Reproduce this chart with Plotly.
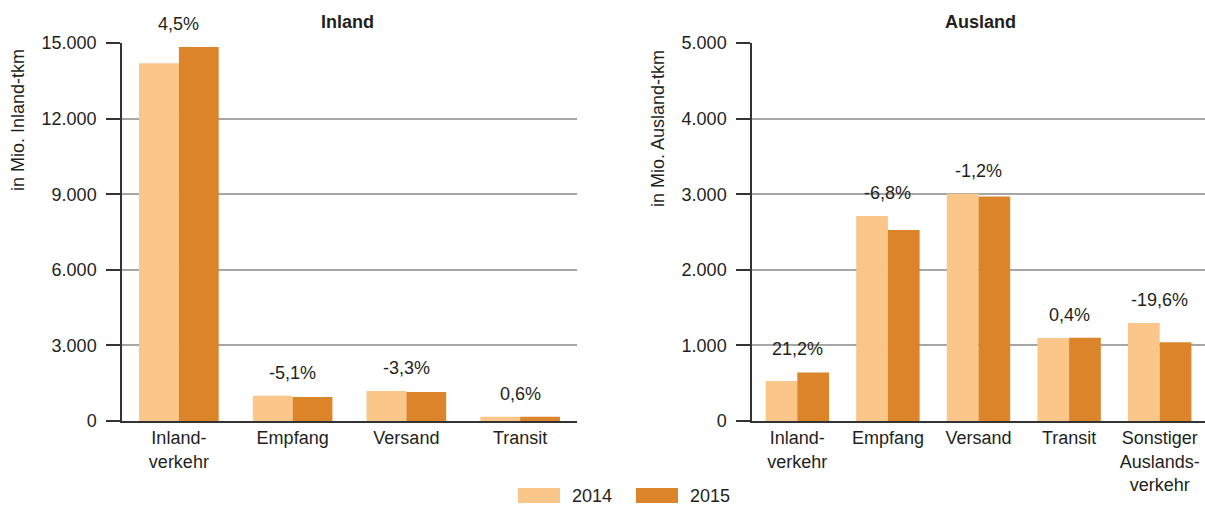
import plotly.graph_objects as go

# ---- data ----
inland_cats = ["Inland-<br>verkehr", "Empfang", "Versand", "Transit"]
inland_2014 = [14200, 1000, 1190, 170]
inland_2015 = [14840, 950, 1150, 171]
inland_change = ["4,5%", "-5,1%", "-3,3%", "0,6%"]

ausland_cats = ["Inland-<br>verkehr", "Empfang", "Versand", "Transit", "Sonstiger<br>Auslands-<br>verkehr"]
ausland_2014 = [530, 2712, 3007, 1098, 1296]
ausland_2015 = [642, 2527, 2971, 1102, 1042]
ausland_change = ["21,2%", "-6,8%", "-1,2%", "0,4%", "-19,6%"]

years = ["2014", "2015"]
colors = ["#FAC68A", "#DB8429"]

W, H = 1205, 505
FONT = "Liberation Sans, Arial, sans-serif"
TXT = "#231F20"
FS = 18

def px_x(p):
    return p / W

def px_y(p):
    return 1 - p / H

fig = go.Figure()

for i, (vals, name) in enumerate(zip([inland_2014, inland_2015], years)):
    fig.add_trace(go.Bar(x=inland_cats, y=vals, name=name, marker_color=colors[i],
                         marker_line_width=0, xaxis="x", yaxis="y", showlegend=False))
for i, (vals, name) in enumerate(zip([ausland_2014, ausland_2015], years)):
    fig.add_trace(go.Bar(x=ausland_cats, y=vals, name=name, marker_color=colors[i],
                         marker_line_width=0, xaxis="x2", yaxis="y2", showlegend=False))

annotations = []
for cat, a, b, t in zip(inland_cats, inland_2014, inland_2015, inland_change):
    annotations.append(dict(x=cat, y=max(a, b), xref="x", yref="y", text=t, showarrow=False,
                            yanchor="bottom", yshift=11, font=dict(size=FS, color=TXT)))
for cat, a, b, t in zip(ausland_cats, ausland_2014, ausland_2015, ausland_change):
    annotations.append(dict(x=cat, y=max(a, b), xref="x2", yref="y2", text=t, showarrow=False,
                            yanchor="bottom", yshift=11, font=dict(size=FS, color=TXT)))

annotations += [
    dict(x=px_x(348), y=px_y(22), xref="paper", yref="paper", text="<b>Inland</b>",
         xanchor="center", yanchor="middle", showarrow=False, font=dict(size=FS, color=TXT)),
    dict(x=px_x(980), y=px_y(22), xref="paper", yref="paper", text="<b>Ausland</b>",
         xanchor="center", yanchor="middle", showarrow=False, font=dict(size=FS, color=TXT)),
    dict(x=px_x(18), y=px_y(120), xref="paper", yref="paper", text="in Mio. Inland-tkm",
         xanchor="center", yanchor="middle", textangle=-90, showarrow=False,
         font=dict(size=FS, color=TXT)),
    dict(x=px_x(658), y=px_y(128), xref="paper", yref="paper", text="in Mio. Ausland-tkm",
         xanchor="center", yanchor="middle", textangle=-90, showarrow=False,
         font=dict(size=FS, color=TXT)),
]

# custom legend (wide swatches like the reference)
shapes = []
legend_x0 = [518, 636]
for x0, name, col in zip(legend_x0, years, colors):
    shapes.append(dict(type="rect", xref="paper", yref="paper",
                       x0=px_x(x0), x1=px_x(x0 + 42), y0=px_y(503), y1=px_y(488),
                       fillcolor=col, line_width=0))
    annotations.append(dict(x=px_x(x0 + 52), y=px_y(495.5), xref="paper", yref="paper",
                            text=name, xanchor="left", yanchor="middle", showarrow=False,
                            font=dict(size=FS, color=TXT)))

y_dom = [px_y(421), px_y(43)]
axis_common = dict(showgrid=False, showline=True, linecolor="#333333", linewidth=1.5,
                   ticks="", tickfont=dict(size=FS, color=TXT), fixedrange=True,
                   automargin=False)
yaxis_common = dict(showgrid=True, gridcolor="#A6A6A6", gridwidth=1.5, showline=True,
                    linecolor="#333333", linewidth=1.5, ticks="outside", ticklen=14,
                    tickcolor="#333333", tickwidth=1.5, tickformat=",d",
                    tickfont=dict(size=FS, color=TXT), zeroline=False, ticklabelstandoff=6,
                    automargin=False, fixedrange=True)

fig.update_layout(
    width=W, height=H,
    margin=dict(l=0, r=0, t=0, b=0, autoexpand=False),
    paper_bgcolor="white", plot_bgcolor="white",
    font=dict(family=FONT, size=FS, color=TXT),
    separators=",.",
    barmode="group", bargap=0.3, bargroupgap=0,
    xaxis=dict(domain=[px_x(122), px_x(577)], anchor="y", **axis_common),
    yaxis=dict(domain=y_dom, anchor="x", range=[0, 15000], tickvals=[0, 3000, 6000, 9000, 12000, 15000],
               **yaxis_common),
    xaxis2=dict(domain=[px_x(752), 1.0], anchor="y2", **axis_common),
    yaxis2=dict(domain=y_dom, anchor="x2", range=[0, 5000], tickvals=[0, 1000, 2000, 3000, 4000, 5000],
                **yaxis_common),
    showlegend=False,
    annotations=annotations,
    shapes=shapes,
)

fig.write_html("out.html", config={"displayModeBar": False},
               post_script="document.body.style.margin='0';document.body.style.padding='0';"
                           "document.documentElement.style.overflow='hidden';")
